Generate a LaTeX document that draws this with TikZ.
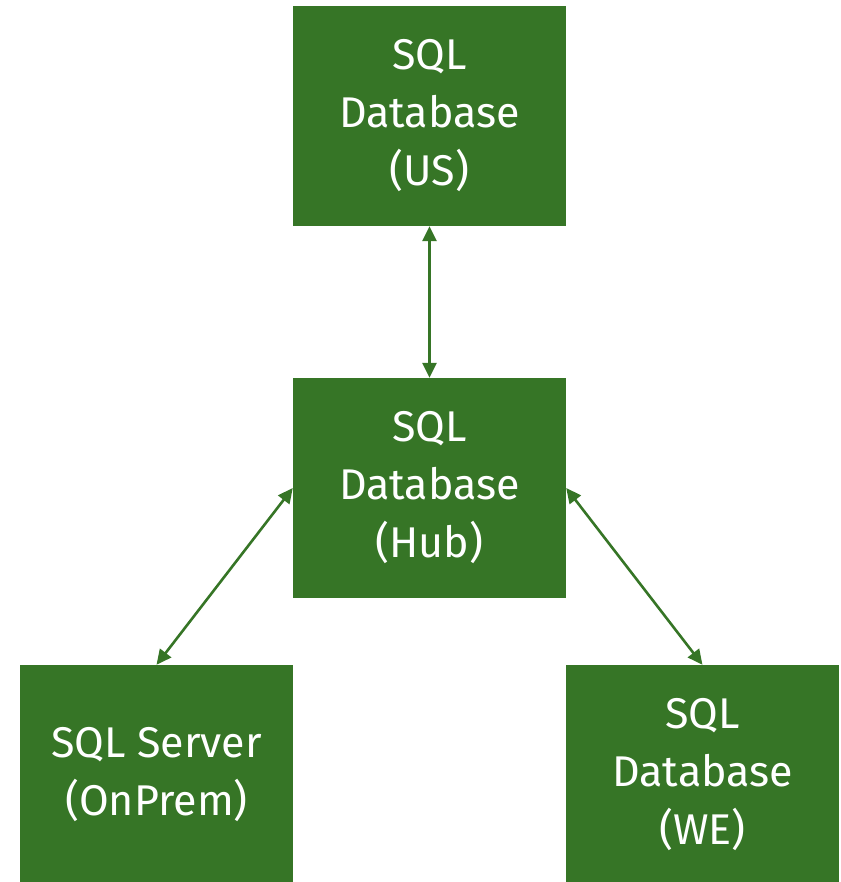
\documentclass[tikz,border=0pt]{standalone}
\usepackage{fontspec}
\setmainfont{Fira Sans}
\usetikzlibrary{arrows.meta}
\definecolor{dbgreen}{HTML}{367526}
\begin{document}
\begin{tikzpicture}[x=1pt,y=-1pt,
  every node/.style={font=\fontsize{43}{58}\selectfont},
  dbbox/.style={fill=dbgreen,text=white,minimum width=273pt,minimum height=220pt,
    align=center,inner sep=0pt},
  link/.style={dbgreen,line width=2.6pt,{Triangle[length=15pt,width=14pt]}-{Triangle[length=15pt,width=14pt]}}]
  % fixed frame of the page
  \useasboundingbox (0,0) rectangle (840,882);

  \node[dbbox] (us) at (429.5,116) {SQL\\Database\\(US)};
  \node[dbbox] (hub) at (429.5,488) {SQL\\Database\\(Hub)};
  \node[dbbox] (onprem) at (156.5,775) {SQL Server\\(OnPrem)};
  \node[dbbox] (we) at (702.5,775) {SQL\\Database\\(WE)};

  \draw[link] (us) -- (hub);
  \draw[link] (hub.west) -- (onprem.north);
  \draw[link] (hub.east) -- (we.north);
\end{tikzpicture}
\end{document}
